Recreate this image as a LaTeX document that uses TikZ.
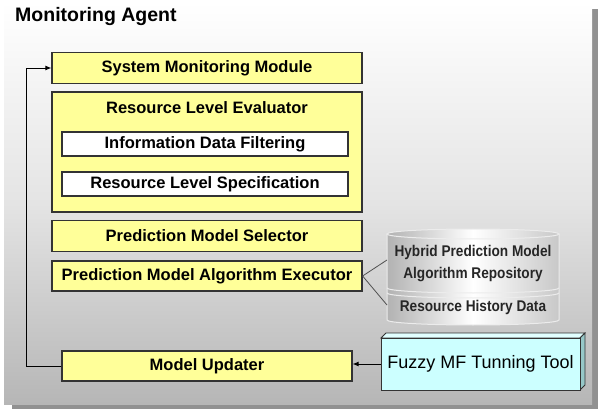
\documentclass[tikz,border=0pt]{standalone}
\usepackage{fontspec}
\setmainfont{Liberation Sans}
\newfontfamily\narrowfont[FakeStretch=0.88]{Liberation Sans}
\usetikzlibrary{arrows.meta}
\definecolor{boxyellow}{RGB}{255,255,153}
\definecolor{boxedge}{RGB}{51,51,51}
\definecolor{fuzzycyan}{RGB}{204,255,255}
\definecolor{fuzzyside}{RGB}{150,200,200}
\definecolor{fuzzytop}{RGB}{225,255,255}
\definecolor{panelbottom}{RGB}{182,182,182}
\definecolor{shadowgray}{RGB}{145,145,145}
\definecolor{cylL}{RGB}{178,178,178}
\definecolor{cylR}{RGB}{200,200,200}
\definecolor{cylEdge}{RGB}{236,236,236}
\definecolor{linkgray}{RGB}{80,80,80}
\begin{document}
\begin{tikzpicture}[x=1pt,y=-1pt,
  ybox/.style={draw=boxedge, line width=1.2pt, fill=boxyellow, inner sep=0pt,
    font=\fontsize{16.5}{19}\selectfont\bfseries},
  wbox/.style={ybox, fill=white},
  lbl/.style={inner sep=0pt, font=\fontsize{16.5}{19}\selectfont\bfseries},
  cyltxt/.style={inner sep=0pt, text=black!85, font=\narrowfont\fontsize{15.5}{18}\selectfont\bfseries},
  fuzzy/.style={draw=boxedge, line width=0.8pt, fill=fuzzycyan, inner sep=0pt,
    font=\fontsize{18}{21}\selectfont},
  arr/.style={draw=black, line width=0.9pt, -{Latex[length=6pt,width=5pt]}},
  link/.style={draw=linkgray, line width=0.8pt}]
\useasboundingbox (0,0) rectangle (603,409);
% panel with shadow
\fill[shadowgray] (12,9) rectangle (598,409);
\shade[top color=white, bottom color=panelbottom, middle color={rgb,255:red,228;green,228;blue,228}] (4,2) rectangle (592,404);
\node[anchor=west, inner sep=0pt, font=\fontsize{19.5}{22}\selectfont\bfseries] (title) at (15,17) {Monitoring Agent};
% yellow boxes
\node[ybox, minimum width=310pt, minimum height=31pt] (smm) at (207,68) {System Monitoring Module};
\node[ybox, minimum width=310pt, minimum height=120pt] (rle) at (207,152) {};
\node[lbl] (rlel) at (207,108) {Resource Level Evaluator};
\node[wbox, minimum width=286pt, minimum height=24pt] (idf) at (205,144) {Information Data Filtering};
\node[wbox, minimum width=286pt, minimum height=24pt] (rls) at (205,184) {Resource Level Specification};
\node[ybox, minimum width=310pt, minimum height=31pt] (pms) at (207,236) {Prediction Model Selector};
\node[ybox, minimum width=310pt, minimum height=30pt] (exec) at (207,276) {Prediction Model Algorithm Executor};
\node[ybox, minimum width=290pt, minimum height=30pt] (mu) at (207,366) {Model Updater};
% cylinder
\shade[left color=cylL, right color=cylR, middle color=white]
  (387,234) -- (387,320) arc[start angle=180,end angle=0,x radius=86,y radius=5]
  -- (559,234) arc[start angle=0,end angle=-180,x radius=86,y radius=5] -- cycle;
\draw[cylEdge, line width=1pt]
  (387,234) -- (387,320) arc[start angle=180,end angle=0,x radius=86,y radius=5]
  -- (559,234);
\draw[cylEdge, line width=1pt] (473,234) ellipse[x radius=86,y radius=5];
\draw[cylEdge, line width=1pt] (387,288) arc[start angle=180,end angle=0,x radius=86,y radius=5];
\draw[cylEdge, line width=1pt] (387,293) arc[start angle=180,end angle=0,x radius=86,y radius=5];
\node[cyltxt] (hp) at (473,252) {Hybrid Prediction Model};
\node[cyltxt] (ar) at (473,275) {Algorithm Repository};
\node[cyltxt] (rh) at (473,307) {Resource History Data};
\coordinate (cA) at (387,260);
\coordinate (cB) at (387,305);
\draw[link] (exec.east) -- (cA);
\draw[link] (exec.east) -- (cB);
% fuzzy 3D box
\filldraw[draw=boxedge, line width=0.8pt, fill=fuzzytop] (381,338) -- (386,333) -- (585,333) -- (580,338) -- cycle;
\filldraw[draw=boxedge, line width=0.8pt, fill=fuzzyside] (580,338) -- (585,333) -- (585,385) -- (580,390) -- cycle;
\node[fuzzy, minimum width=199pt, minimum height=52pt] (fz) at (480.5,364) {Fuzzy MF Tunning Tool};
% connectors
\draw[arr] (fz.west) -- (mu.east |- fz.west);
\draw[arr] (mu.west) -- ++(-35,0) |- (smm.west);
\end{tikzpicture}
\end{document}
